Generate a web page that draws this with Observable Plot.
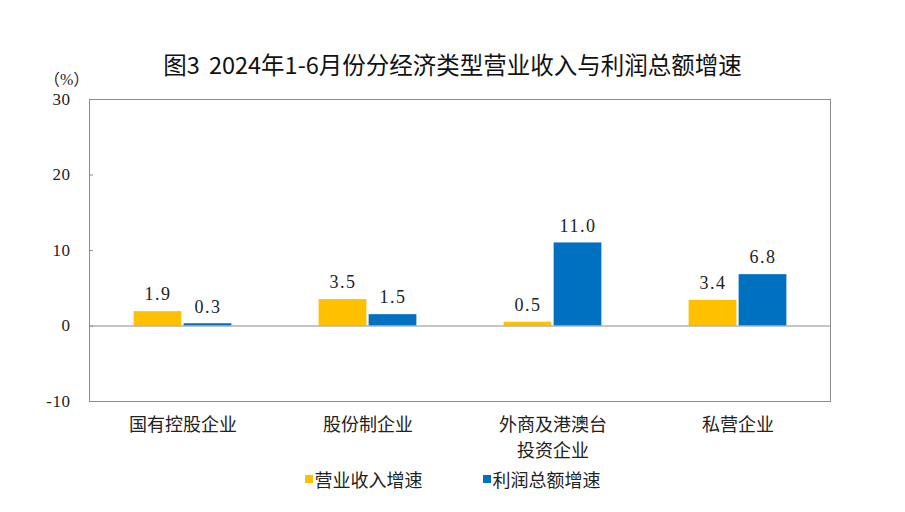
<!DOCTYPE html>
<html><head><meta charset="utf-8">
<script src="https://cdn.jsdelivr.net/npm/d3@7"></script>
<script src="https://cdn.jsdelivr.net/npm/@observablehq/plot@0.6"></script>
<style>
body{margin:0;background:#fff;}
#wrap{position:relative;width:905px;height:512px;overflow:hidden;font-family:"Noto Sans CJK SC",sans-serif;}
#title{position:absolute;left:0;width:905px;top:47px;text-align:center;font-size:23.5px;color:#111;word-spacing:4px;}
#unit{position:absolute;left:44px;top:66px;font-size:16px;color:#222;font-family:"Liberation Serif","Noto Sans CJK SC";}
#legend{position:absolute;left:0;width:905px;top:462px;text-align:center;font-size:18px;color:#222;}
#legend span{display:inline-flex;align-items:center;margin:0 30px;}
#legend i{display:inline-block;width:8px;height:8px;margin-right:2px;}
svg{position:absolute;left:0;top:0;}
</style></head>
<body><div id="wrap">
<div id="title">图3 2024年1-6月份分经济类型营业收入与利润总额增速</div>
<div id="unit">（%）</div>
<div id="legend"></div>
</div>
<script>
const categories = ["国有控股企业", "股份制企业", "外商及港澳台\n投资企业", "私营企业"];
const seriesNames = ["营业收入增速", "利润总额增速"];
const revenueGrowth = [1.9, 3.5, 0.5, 3.4];
const profitGrowth = [0.3, 1.5, 11.0, 6.8];
const yTicks = [-10, 0, 10, 20, 30];
const colors = ["#FFC000", "#0070C0"];

const rev = categories.map((c, i) => ({cat: c, v: revenueGrowth[i]}));
const pro = categories.map((c, i) => ({cat: c, v: profitGrowth[i]}));

const W = 905, H = 512, mL = 89, mR = 75, mT = 99, mB = 111;
const band = (W - mL - mR) / categories.length;
const inNear = band / 2 - 49, inFar = band / 2 - 1;

const chart = Plot.plot({
  width: W, height: H,
  marginLeft: mL, marginRight: mR, marginTop: mT, marginBottom: mB,
  x: {domain: categories, padding: 0},
  y: {domain: [-10, 30]},
  style: {fontFamily: "Liberation Serif", background: "transparent"},
  marks: [
    Plot.frame({stroke: "#8c8c8c", strokeWidth: 1}),
    Plot.barY(rev, {x: "cat", y: "v", fill: colors[0], insetLeft: inNear, insetRight: band - inFar}),
    Plot.barY(pro, {x: "cat", y: "v", fill: colors[1], insetLeft: band - inFar, insetRight: inNear}),
    Plot.ruleY([0], {stroke: "#8c8c8c", strokeWidth: 1}),
    Plot.tickY(yTicks, {y: d => d, stroke: "#8c8c8c", insetRight: W - mL - mR - 4}),
    Plot.text(rev, {x: "cat", y: "v", text: d => d.v.toFixed(1), dx: -25, dy: -17, fontSize: 18, fill: "#222", fontFamily: "Liberation Serif"}),
    Plot.text(pro, {x: "cat", y: "v", text: d => d.v.toFixed(1), dx: 25, dy: -17, fontSize: 18, fill: "#222", fontFamily: "Liberation Serif"}),
    Plot.axisY({ticks: yTicks, tickFormat: d => String(d), tickSize: 0, tickPadding: 19, fontSize: 17, fill: "#222", label: null, fontFamily: "Liberation Serif"}),
    Plot.axisX({tickSize: 0, tickPadding: 11, fontSize: 18, fill: "#222", label: null, lineHeight: 1.45, fontFamily: "Noto Sans CJK SC"})
  ]
});
document.getElementById("wrap").appendChild(chart);
chart.querySelectorAll('g[aria-label="text"]').forEach(g => g.style.letterSpacing = "1.5px");
chart.querySelectorAll('g[aria-label="y-axis tick label"]').forEach(g => { g.style.letterSpacing = "0.5px"; g.style.fontFamily = "Liberation Serif"; });

const lg = document.getElementById("legend");
seriesNames.forEach((n, i) => {
  const s = document.createElement("span");
  s.innerHTML = `<i style="background:${colors[i]}"></i>${n}`;
  lg.appendChild(s);
});
</script>
</body></html>
